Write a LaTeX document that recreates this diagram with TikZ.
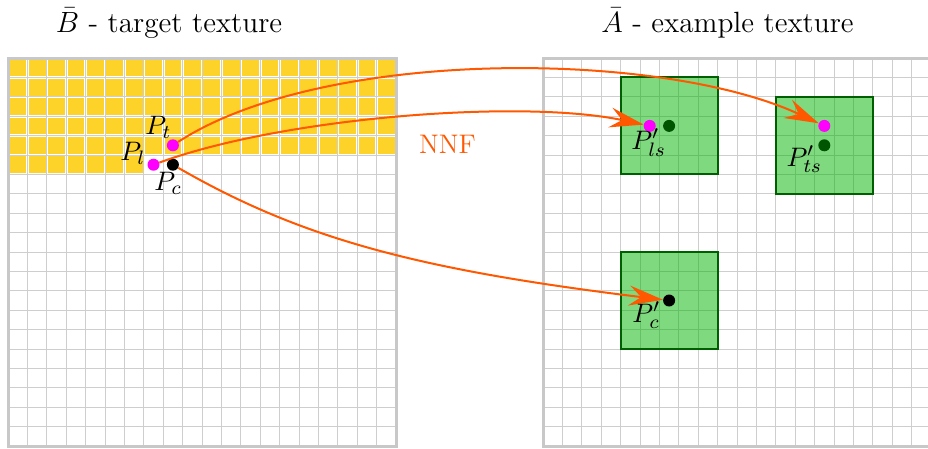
\documentclass[tikz,border=0pt]{standalone}
\usetikzlibrary{arrows.meta}

\definecolor{framegray}{RGB}{200,200,200}
\definecolor{gridgray}{RGB}{206,206,206}
\definecolor{texyellow}{RGB}{253,211,42}
\definecolor{nnforange}{RGB}{255,88,0}
\definecolor{patchfill}{RGB}{0,180,0}
\definecolor{patchedge}{RGB}{0,95,0}
\definecolor{centregreen}{RGB}{0,85,0}
\definecolor{pinkdot}{RGB}{255,0,255}

\begin{document}
\begin{tikzpicture}[x=1pt,y=-1pt,
  gridline/.style={draw=gridgray,line width=1pt},
  texframe/.style={draw=framegray,line width=3pt},
  donecell/.style={fill=texyellow},
  patchbox/.style={fill=patchfill,fill opacity=0.5,draw=patchedge,line width=2pt},
  pix/.style={circle,inner sep=0pt,minimum size=12pt},
  lbl/.style={scale=2.44,inner sep=0pt,anchor=base west,font=\fontsize{11}{13}\selectfont},
  heading/.style={scale=2.44,inner sep=0pt,anchor=base,font=\large},
  nnfarrow/.style={draw=nnforange,line width=2pt,
    -{Stealth[length=34pt,width=20pt,inset=12pt]}},
]
\useasboundingbox (0,0) rectangle (928,448);
\fill[white] (0,0) rectangle (928,448);

% cell size 19.4, both textures are 20 x 20 cells
% ---- target texture B (left)
\foreach \i in {1,...,19} {
  \draw[gridline] ({8+\i*19.4},58) -- ({8+\i*19.4},446);
  \draw[gridline] (8,{58+\i*19.4}) -- (396,{58+\i*19.4});
}
% already synthesised pixels (scan-line order)
\foreach \r in {0,...,4}
  \foreach \c in {0,...,19}
    \fill[donecell] ({8+\c*19.4+1.3},{58+\r*19.4+1.3}) rectangle ++(16.8,16.8);
\foreach \c in {0,...,6}
  \fill[donecell] ({8+\c*19.4+1.3},{58+5*19.4+1.3}) rectangle ++(16.8,16.8);
\draw[texframe] (8,58) rectangle (396,446);

% ---- example texture A (right)
\foreach \i in {1,...,19} {
  \draw[gridline] ({543+\i*19.4},58) -- ({543+\i*19.4},446);
  \draw[gridline] (543,{58+\i*19.4}) -- (931,{58+\i*19.4});
}
\draw[texframe] (543,58) rectangle (931,446);

% candidate patches (5 x 5 cells)
\draw[patchbox] ({543+4*19.4},{58+1*19.4}) rectangle ++(97,97);
\draw[patchbox] ({543+12*19.4},{58+2*19.4}) rectangle ++(97,97);
\draw[patchbox] ({543+4*19.4},{58+10*19.4}) rectangle ++(97,97);

% pixels
\node[pix,fill=pinkdot] (pt) at (172.9,145.3) {};
\node[pix,fill=pinkdot] (pl) at (153.5,164.7) {};
\node[pix,fill=black]   (pc) at (172.9,164.7) {};

\node[pix,fill=pinkdot]     (pls)  at (649.7,125.9) {};
\node[pix,fill=centregreen] (plsc) at (669.1,125.9) {};
\node[pix,fill=pinkdot]     (pts)  at (824.3,125.9) {};
\node[pix,fill=centregreen] (ptsc) at (824.3,145.3) {};
\node[pix,fill=black]       (pcp)  at (669.1,300.5) {};

% nearest-neighbour field
\draw[nnfarrow] (pt) .. controls +(-33:180) and +(205:180) .. (pts);
\draw[nnfarrow] (pl) .. controls +(-20:140) and +(192:130) .. (pls);
\draw[nnfarrow] (pc) .. controls +(30:150) and +(187:250) .. (pcp);

% labels
\node[lbl] (lpt)  at (145,134) {$P_t$};
\node[lbl] (lpl)  at (120,160) {$P_l$};
\node[lbl] (lpc)  at (154,190) {$P_c$};
\node[lbl] (lpls) at (631,149) {$P'_{ls}$};
\node[lbl] (lpts) at (786,166) {$P'_{ts}$};
\node[lbl] (lpcp) at (632,322) {$P'_c$};

\node[scale=2.44,inner sep=0pt,anchor=base,text=nnforange,
      font=\fontsize{11}{13}\selectfont] (nnf) at (447.5,153) {NNF};

\node[heading] (tb) at (169,32) {$\bar{B}$ - target texture};
\node[heading] (ta) at (727.5,32) {$\bar{A}$ - example texture};
\end{tikzpicture}
\end{document}
